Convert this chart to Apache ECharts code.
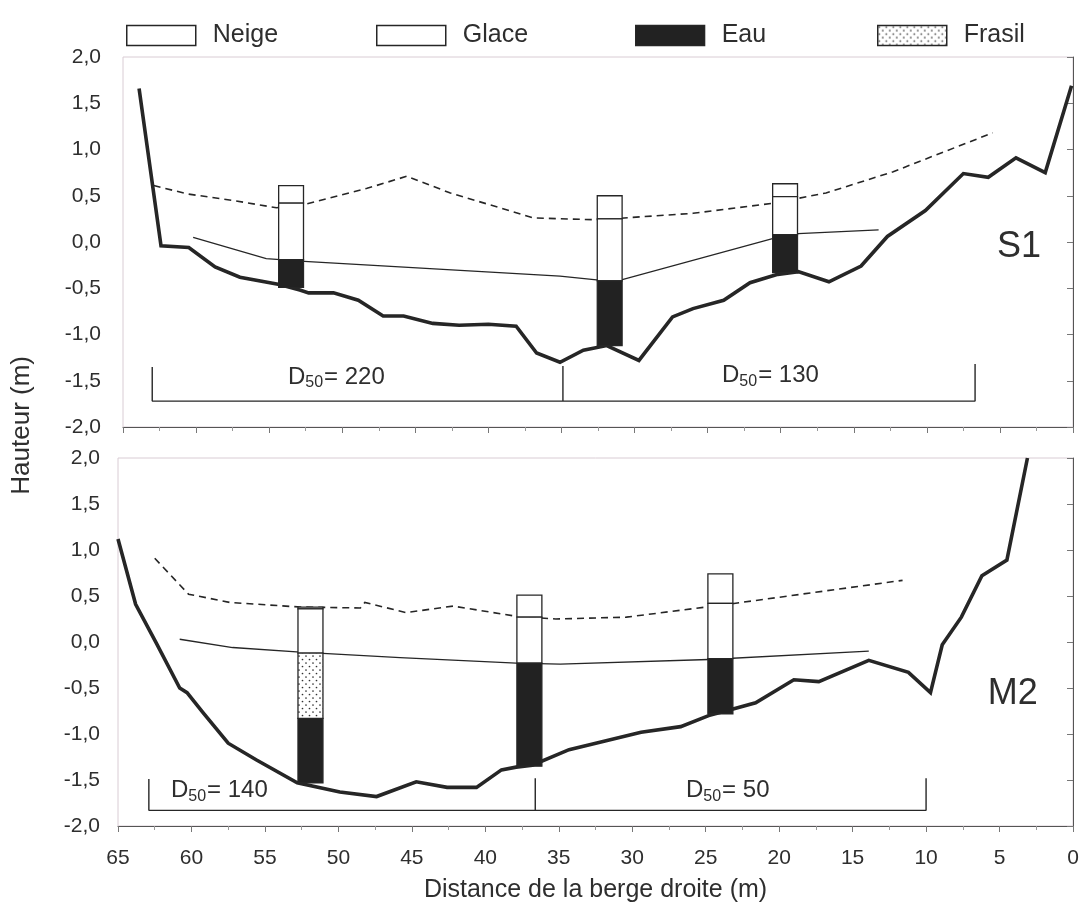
<!DOCTYPE html>
<html>
<head>
<meta charset="utf-8">
<script src="https://cdn.jsdelivr.net/npm/echarts@6/dist/echarts.min.js"></script>
<style>
html,body{margin:0;padding:0;background:#fff;}
#c{width:1085px;height:918px;}
</style>
</head>
<body>
<div id="c"></div>
<script>
// ---------- DATA ----------
const xTicks = [65, 60, 55, 50, 45, 40, 35, 30, 25, 20, 15, 10, 5, 0];
const yTicks = [-2, -1.5, -1, -0.5, 0, 0.5, 1, 1.5, 2];
const legendNames = ['Neige', 'Glace', 'Eau', 'Frasil'];
const panelNames = ['S1', 'M2'];

// S1 (upper panel)
const s1BedX = [63.9, 62.4, 60.5, 58.7, 57.0, 54.3, 52.9, 52.3, 50.6, 48.9, 47.2, 45.8, 43.8, 42.0, 40.0, 38.1, 36.7, 35.1, 33.5, 31.9, 29.7, 27.4, 26.0, 23.9, 22.1, 20.2, 18.8, 16.7, 14.5, 12.7, 10.1, 7.5, 5.8, 3.9, 1.9, 0.1];
const s1BedY = [1.66, -0.04, -0.06, -0.27, -0.38, -0.46, -0.52, -0.55, -0.55, -0.63, -0.80, -0.80, -0.88, -0.90, -0.89, -0.91, -1.20, -1.30, -1.17, -1.12, -1.28, -0.81, -0.72, -0.63, -0.44, -0.35, -0.32, -0.43, -0.26, 0.06, 0.34, 0.74, 0.70, 0.91, 0.75, 1.69];
const s1WaterX = [60.2, 55.2, 52.6, 35.1, 32.6, 30.9, 20.5, 18.8, 13.3];
const s1WaterY = [0.05, -0.18, -0.21, -0.37, -0.41, -0.41, 0.04, 0.09, 0.13];
const s1DashX = [62.9, 60.6, 57.5, 54.5, 52.7, 48.3, 45.6, 42.6, 36.9, 32.6, 26.0, 20.5, 16.9, 12.3, 5.5];
const s1DashY = [0.61, 0.52, 0.45, 0.37, 0.40, 0.58, 0.71, 0.53, 0.26, 0.24, 0.31, 0.42, 0.53, 0.76, 1.18];
const s1CoreX = [53.5, 31.7, 19.7];
const s1SnowTop = [0.61, 0.50, 0.63];
const s1IceTop = [0.42, 0.25, 0.49];
const s1IceBottom = [-0.19, -0.42, 0.08];
const s1FrasilBottom = [null, null, null];
const s1CoreBottom = [-0.49, -1.12, -0.33];
const s1BracketX = [63.0, 34.9, 6.7];
const s1BracketTop = [-1.35, -1.34, -1.32];
const s1BracketBase = -1.72;
const s1D50Values = ['220', '130'];
const s1D50X = [50.4, 20.7];
const s1D50Y = [-1.46, -1.44];
const s1NameXY = [3.7, -0.06];

// M2 (lower panel)
const m2BedX = [65.0, 63.8, 62.4, 60.8, 60.3, 59.2, 57.5, 55.6, 52.8, 49.9, 47.4, 44.7, 42.6, 40.6, 38.9, 37.9, 36.8, 34.3, 32.2, 29.4, 26.7, 24.8, 23.2, 21.6, 19.0, 17.3, 13.9, 11.2, 9.7, 8.9, 7.6, 6.2, 4.5, 3.1];
const m2BedY = [1.12, 0.41, -0.01, -0.50, -0.55, -0.77, -1.10, -1.28, -1.53, -1.63, -1.68, -1.52, -1.58, -1.58, -1.39, -1.36, -1.34, -1.17, -1.09, -0.98, -0.92, -0.80, -0.73, -0.66, -0.41, -0.43, -0.20, -0.33, -0.55, -0.03, 0.27, 0.72, 0.89, 2.0];
const m2WaterX = [60.8, 57.2, 52.6, 45.8, 37.9, 34.9, 24.8, 13.9];
const m2WaterY = [0.03, -0.06, -0.11, -0.17, -0.23, -0.24, -0.19, -0.10];
const m2DashX = [62.5, 60.2, 57.4, 52.6, 48.5, 48.2, 45.4, 42.2, 37.9, 35.2, 30.4, 23.5, 11.6];
const m2DashY = [0.91, 0.52, 0.43, 0.38, 0.37, 0.43, 0.32, 0.39, 0.28, 0.25, 0.27, 0.41, 0.67];
const m2CoreX = [51.9, 37.0, 24.0];
const m2SnowTop = [0.38, 0.51, 0.74];
const m2IceTop = [0.36, 0.27, 0.42];
const m2IceBottom = [-0.12, -0.23, -0.18];
const m2FrasilBottom = [-0.83, null, null];
const m2CoreBottom = [-1.53, -1.35, -0.78];
const m2BracketX = [62.9, 36.6, 10.0];
const m2BracketTop = [-1.49, -1.48, -1.48];
const m2BracketBase = -1.83;
const m2D50Values = ['140', '50'];
const m2D50X = [58.1, 23.5];
const m2D50Y = [-1.61, -1.61];
const m2NameXY = [4.1, -0.57];

// ---------- STYLE ----------
const FONT = '"Liberation Sans", Arial, sans-serif';
const INK = '#262626';
const TXT = '#2e2e2e';
const CORE_W = 1.7; // column width in metres

const dotCanvas = document.createElement('canvas');
dotCanvas.width = 7; dotCanvas.height = 7;
(function () {
  const g = dotCanvas.getContext('2d');
  g.fillStyle = '#ffffff'; g.fillRect(0, 0, 7, 7);
  g.fillStyle = '#333333';
  g.beginPath(); g.arc(1.5, 1.5, 0.85, 0, Math.PI * 2); g.fill();
  g.beginPath(); g.arc(5, 5, 0.85, 0, Math.PI * 2); g.fill();
})();
const frasilFill = { image: dotCanvas, repeat: 'repeat' };

const fills = { Neige: '#ffffff', Glace: '#ffffff', Eau: '#222222', Frasil: frasilFill };

function zip(xs, ys) { return xs.map((x, i) => [x, ys[i]]); }

function rectRenderer(fill) {
  return function (params, api) {
    const x = api.value(0), lo = api.value(1), hi = api.value(2);
    const p1 = api.coord([x + CORE_W / 2, hi]);
    const p2 = api.coord([x - CORE_W / 2, lo]);
    return {
      type: 'rect',
      shape: {
        x: Math.min(p1[0], p2[0]), y: Math.min(p1[1], p2[1]),
        width: Math.abs(p2[0] - p1[0]), height: Math.abs(p2[1] - p1[1])
      },
      style: { fill: fill, stroke: INK, lineWidth: 1.3 }
    };
  };
}

function coreSeries(idx, cx, snow, iceT, iceB, fraB, bot) {
  const layers = {
    Neige: cx.map((x, i) => [x, iceT[i], snow[i]]),
    Glace: cx.map((x, i) => [x, iceB[i], iceT[i]]),
    Frasil: cx.map((x, i) => fraB[i] == null ? null : [x, fraB[i], iceB[i]]).filter(Boolean),
    Eau: cx.map((x, i) => [x, bot[i], fraB[i] == null ? iceB[i] : fraB[i]])
  };
  return legendNames.map(n => ({
    name: n, type: 'custom', xAxisIndex: idx, yAxisIndex: idx,
    renderItem: rectRenderer(fills[n]),
    itemStyle: { color: fills[n], borderColor: INK, borderWidth: 1.3 },
    data: layers[n], z: 5, silent: true
  }));
}

function lineSeries(idx, xs, ys, width, type, z) {
  return {
    type: 'line', xAxisIndex: idx, yAxisIndex: idx, data: zip(xs, ys),
    symbol: 'none', showSymbol: false, silent: true, z: z || 3,
    lineStyle: { color: INK, width: width, type: type || 'solid', join: 'miter' }
  };
}

function bracketSeries(idx, bx, btop, base) {
  const outer = [[bx[0], btop[0]], [bx[0], base], [bx[2], base], [bx[2], btop[2]]];
  const mid = [[bx[1], btop[1]], [bx[1], base]];
  const st = { color: INK, width: 1.4 };
  return [
    { type: 'line', xAxisIndex: idx, yAxisIndex: idx, data: outer, symbol: 'none', lineStyle: st, silent: true },
    { type: 'line', xAxisIndex: idx, yAxisIndex: idx, data: mid, symbol: 'none', lineStyle: st, silent: true }
  ];
}

const noStroke = { textBorderWidth: 0, textBorderColor: 'transparent', textShadowBlur: 0 };

function textSeries(idx, pts) {
  return {
    type: 'scatter', xAxisIndex: idx, yAxisIndex: idx, symbolSize: 0, silent: true, z: 10,
    itemStyle: { color: 'transparent', opacity: 1 },
    data: pts,
    label: Object.assign({
      show: true, position: 'inside', color: TXT, fontFamily: FONT,
      formatter: p => p.data.text,
      rich: {
        a: Object.assign({ fontSize: 24, fontFamily: FONT, color: TXT }, noStroke),
        s: Object.assign({ fontSize: 16, fontFamily: FONT, color: TXT, padding: [12, 1, 0, 0] }, noStroke),
        big: Object.assign({ fontSize: 36, fontFamily: FONT, color: TXT }, noStroke)
      }
    }, noStroke)
  };
}

function d50Points(xs, ys, vals) {
  return xs.map((x, i) => ({ value: [x, ys[i]], text: '{a|D}{s|50}{a|= ' + vals[i] + '}' }));
}

const yFmt = v => (Math.round(v * 10) / 10).toFixed(1).replace('.', ',');

function xAxis(idx, showLabels) {
  return {
    type: 'value', gridIndex: idx, inverse: true, min: 0, max: 65, interval: 5,
    axisLine: { show: true, onZero: false, lineStyle: { color: '#555', width: 1 } },
    axisTick: { show: true, length: 6, lineStyle: { color: '#777' } },
    minorTick: { show: true, splitNumber: 2, length: 4, lineStyle: { color: '#999' } },
    splitLine: { show: false },
    axisLabel: {
      show: showLabels, fontSize: 21, color: TXT, fontFamily: FONT, margin: 22,
      formatter: v => String(v)
    },
    name: showLabels ? 'Distance de la berge droite (m)' : '',
    nameLocation: 'middle', nameGap: 52,
    nameTextStyle: { fontSize: 25, color: TXT, fontFamily: FONT }
  };
}
function yAxis(idx, margin) {
  return {
    type: 'value', gridIndex: idx, min: -2, max: 2, interval: 0.5,
    axisLine: { show: true, lineStyle: { color: '#555', width: 1 } },
    axisTick: { show: true, length: 6, lineStyle: { color: '#777' } },
    splitLine: { show: false },
    axisLabel: { fontSize: 21, color: TXT, fontFamily: FONT, margin: margin, formatter: yFmt }
  };
}

function legendAt(name, left) {
  const st = name === 'Eau' ? { color: '#222222', borderColor: INK, borderWidth: 1.3 }
    : { color: fills[name], borderColor: INK, borderWidth: 1.5 };
  return {
    data: [{ name: name, icon: 'rect', itemStyle: st }],
    left: left, top: 18, itemWidth: 69, itemHeight: 20, selectedMode: false,
    textStyle: { fontSize: 25, color: TXT, fontFamily: FONT, padding: [0, 0, 0, 12] }
  };
}

const series = [].concat(
  [lineSeries(0, s1BedX, s1BedY, 3.6, 'solid', 4),
   lineSeries(0, s1WaterX, s1WaterY, 1.3),
   lineSeries(0, s1DashX, s1DashY, 1.6, [7, 5])],
  coreSeries(0, s1CoreX, s1SnowTop, s1IceTop, s1IceBottom, s1FrasilBottom, s1CoreBottom),
  bracketSeries(0, s1BracketX, s1BracketTop, s1BracketBase),
  [textSeries(0, d50Points(s1D50X, s1D50Y, s1D50Values).concat([{ value: s1NameXY, text: '{big|' + panelNames[0] + '}' }]))],
  [lineSeries(1, m2BedX, m2BedY, 3.6, 'solid', 4),
   lineSeries(1, m2WaterX, m2WaterY, 1.3),
   lineSeries(1, m2DashX, m2DashY, 1.6, [7, 5])],
  coreSeries(1, m2CoreX, m2SnowTop, m2IceTop, m2IceBottom, m2FrasilBottom, m2CoreBottom),
  bracketSeries(1, m2BracketX, m2BracketTop, m2BracketBase),
  [textSeries(1, d50Points(m2D50X, m2D50Y, m2D50Values).concat([{ value: m2NameXY, text: '{big|' + panelNames[1] + '}' }]))]
);

const chart = echarts.init(document.getElementById('c'), null, { renderer: 'canvas' });
chart.setOption({
  animation: false,
  backgroundColor: '#ffffff',
  textStyle: { fontFamily: FONT },
  legend: [legendAt('Neige', 121), legendAt('Glace', 371), legendAt('Eau', 630), legendAt('Frasil', 872)],
  grid: [
    { left: 123, right: 12, top: 57, height: 370, show: true, borderColor: '#d9ccd4', borderWidth: 1 },
    { left: 118, right: 12, top: 458, height: 368, show: true, borderColor: '#d9ccd4', borderWidth: 1 }
  ],
  xAxis: [xAxis(0, false), xAxis(1, true)],
  yAxis: [yAxis(0, 22), yAxis(1, 18)],
  graphic: [{
    type: 'text', left: 9, top: 356, rotation: Math.PI / 2,
    style: { text: 'Hauteur (m)', font: '26px ' + FONT, fill: TXT }
  }],
  series: series
});
</script>
</body>
</html>
